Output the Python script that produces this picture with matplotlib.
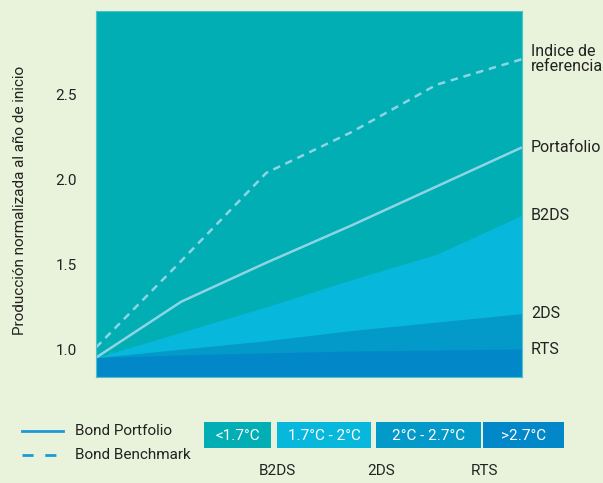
import matplotlib
matplotlib.use("Agg")
import matplotlib.pyplot as plt
from matplotlib.patches import Rectangle
from matplotlib.lines import Line2D

plt.rcParams['font.family'] = ['Roboto', 'DejaVu Sans']

# Years since start
years = [0, 1, 2, 3, 4, 5]

# Scenario band tops (normalised production)
rts_top = [0.95, 0.966, 0.978, 0.989, 0.995, 1.001]
ds2_top = [0.95, 1.00, 1.05, 1.11, 1.16, 1.21]
b2ds_top = [0.95, 1.10, 1.25, 1.41, 1.56, 1.79]

# Portfolio and benchmark trajectories
portfolio = [0.95, 1.28, 1.51, 1.73, 1.96, 2.19]
benchmark = [1.01, 1.52, 2.04, 2.28, 2.56, 2.71]

yticks = [1.0, 1.5, 2.0, 2.5]
ytick_labels = ["1.0", "1.5", "2.0", "2.5"]

right_labels = ["Indice de\nreferencia", "Portafolio", "B2DS", "2DS", "RTS"]
temp_boxes = ["<1.7°C", "1.7°C - 2°C", "2°C - 2.7°C", ">2.7°C"]
scenario_names = ["B2DS", "2DS", "RTS"]

BG = "#E9F2DA"
TEAL = "#00AEB4"
CYAN = "#07B8DC"
MID = "#0399C9"
DARK = "#0287C8"
LINE = "#8ED4E4"
LEG_LINE = "#1C9AD6"
TXT = "#222222"

W, H = 603, 483
fig = plt.figure(figsize=(W / 100, H / 100), dpi=100, facecolor=BG)

L, R, T, B = 96, 522, 11, 377
ax = fig.add_axes([L / W, 1 - B / H, (R - L) / W, (B - T) / H])
ax.set_facecolor(TEAL)
ax.set_xlim(0, 5)
ax.set_ylim(0.836, 2.994)

ymin = ax.get_ylim()[0]
ax.fill_between(years, ymin, b2ds_top, color=CYAN, lw=0)
ax.fill_between(years, ymin, ds2_top, color=MID, lw=0)
ax.fill_between(years, ymin, rts_top, color=DARK, lw=0)

ax.plot(years, portfolio, color=LINE, lw=1.8, solid_capstyle='butt')
ax.plot(years, benchmark, color=LINE, lw=1.8, linestyle=(0, (3, 2.3)))

ax.set_xticks([])
ax.set_yticks(yticks)
ax.set_yticklabels(ytick_labels)
ax.tick_params(axis='y', length=0, pad=14, labelsize=11, labelcolor=TXT)
for s in ax.spines.values():
    s.set_color("#4DC3C8")
    s.set_linewidth(0.8)

# Series labels to the right of the plot
ends = [benchmark[-1], portfolio[-1], b2ds_top[-1], ds2_top[-1], rts_top[-1]]
tr = ax.get_yaxis_transform()
for lab, yv in zip(right_labels, ends):
    ax.text(1.0 + 9 / (R - L), yv, lab, transform=tr, ha='left', va='center',
            fontsize=11.5, color=TXT, linespacing=1.05, clip_on=False)

fig.text(20 / W, 1 - 200 / H, "Producción normalizada al año de inicio",
         rotation=90, ha='center', va='center', fontsize=11, color=TXT)

# Bottom key drawn in pixel space
kx = fig.add_axes([0, 0, 1, 1], facecolor='none')
kx.set_xlim(0, W)
kx.set_ylim(H, 0)
kx.axis('off')

kx.add_line(Line2D([22, 63], [431, 431], color=LEG_LINE, lw=2))
kx.add_line(Line2D([22, 63], [455, 455], color=LEG_LINE, lw=2,
                   linestyle=(0, (4, 4.2))))
kx.text(75, 431, "Bond Portfolio", ha='left', va='center', fontsize=11, color=TXT)
kx.text(75, 455, "Bond Benchmark", ha='left', va='center', fontsize=11, color=TXT)

box_x = [(204, 271), (277, 371), (376, 481), (483, 564)]
box_c = [TEAL, CYAN, MID, DARK]
for (x0, x1), c, lab in zip(box_x, box_c, temp_boxes):
    kx.add_patch(Rectangle((x0, 422), x1 - x0, 26, facecolor=c, edgecolor='none'))
    kx.text((x0 + x1) / 2, 435.5, lab, ha='center', va='center',
            fontsize=11, color='white')

name_x = [277, 381, 485]
for nx, lab in zip(name_x, scenario_names):
    kx.text(nx, 471, lab, ha='center', va='center', fontsize=11, color=TXT)

fig.savefig("out.png", dpi=100, facecolor=BG)
